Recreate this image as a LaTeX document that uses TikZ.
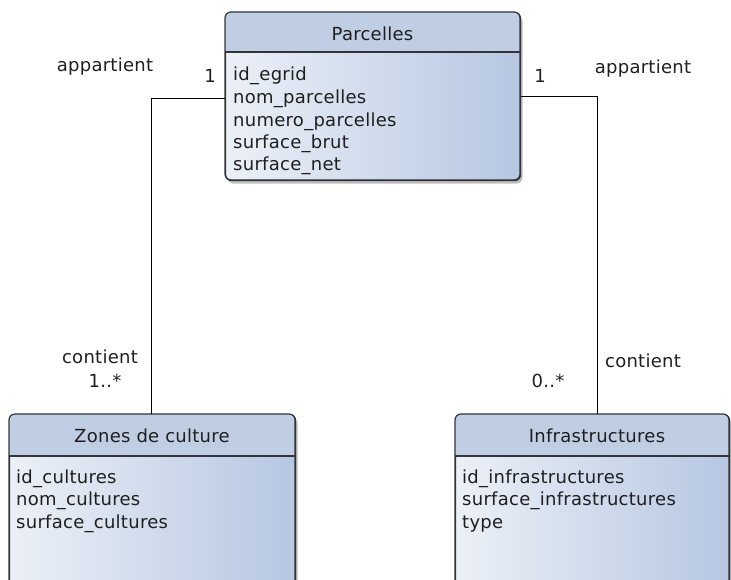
\documentclass[tikz,border=0pt]{standalone}
\usepackage{fontspec}
\setmainfont[LetterSpace=1.5]{DejaVu Sans}
\usetikzlibrary{calc,shadows}
\definecolor{hdr}{RGB}{192,206,228}
\definecolor{bodyL}{RGB}{236,240,247}
\definecolor{bodyR}{RGB}{182,199,226}
\definecolor{edge}{RGB}{50,52,58}
\tikzset{
  classbox/.style={draw=edge, line width=1.2pt, rounded corners=6pt, anchor=north west,
    left color=bodyL, right color=bodyR,
    drop shadow={shadow xshift=2pt, shadow yshift=-3pt, opacity=0.25, fill=black}},
  ttl/.style={font=\fontsize{18}{20}\selectfont, text=black!88},
  attr/.style={font=\fontsize{18}{20}\selectfont, text=black!88, anchor=west, inner sep=0pt},
  lbl/.style={font=\fontsize{18}{20}\selectfont, text=black!88},
  conn/.style={draw=black, line width=0.9pt}
}
\begin{document}
\begin{tikzpicture}[x=1pt,y=-1pt]
\useasboundingbox (0,0) rectangle (731,580);
% Parcelles
\node[classbox, minimum width=295pt, minimum height=168pt] (parc) at (225,12) {};
\begin{scope}
\clip[rounded corners=6pt] (225,12) rectangle (520,180);
\fill[hdr] (225,12) rectangle (520,52);
\end{scope}
\draw[edge, line width=1.2pt, rounded corners=6pt] (225,12) rectangle (520,180);
\draw[edge, line width=1.2pt] (225,52) -- (520,52);
\node[ttl] (parct) at (372.5,34) {Parcelles};
\node[attr] (p1) at (233,76) {id\_egrid};
\node[attr] (p2) at (233,99) {nom\_parcelles};
\node[attr] (p3) at (233,122) {numero\_parcelles};
\node[attr] (p4) at (233,144) {surface\_brut};
\node[attr] (p5) at (233,166) {surface\_net};
% Zones de culture
\node[classbox, minimum width=286pt, minimum height=190pt] (zone) at (9,414) {};
\begin{scope}
\clip[rounded corners=6pt] (9,414) rectangle (295,604);
\fill[hdr] (9,414) rectangle (295,456);
\end{scope}
\draw[edge, line width=1.2pt, rounded corners=6pt] (9,414) rectangle (295,604);
\draw[edge, line width=1.2pt] (9,456) -- (295,456);
\node[ttl] (zonet) at (152,436) {Zones de culture};
\node[attr] (z1) at (16,479) {id\_cultures};
\node[attr] (z2) at (16,501) {nom\_cultures};
\node[attr] (z3) at (16,524) {surface\_cultures};
% Infrastructures
\node[classbox, minimum width=274pt, minimum height=190pt] (infra) at (455,414) {};
\begin{scope}
\clip[rounded corners=6pt] (455,414) rectangle (729,604);
\fill[hdr] (455,414) rectangle (729,456);
\end{scope}
\draw[edge, line width=1.2pt, rounded corners=6pt] (455,414) rectangle (729,604);
\draw[edge, line width=1.2pt] (455,456) -- (729,456);
\node[ttl] (infrat) at (597,436) {Infrastructures};
\node[attr] (i1) at (462,479) {id\_infrastructures};
\node[attr] (i2) at (462,501) {surface\_infrastructures};
\node[attr] (i3) at (462,524) {type};
% connectors
\coordinate (lc) at (151,98);
\coordinate (rc) at (597,96);
\draw[conn] (parc.west |- lc) -- (lc) -- (lc |- zone.north);
\draw[conn] (parc.east |- rc) -- (rc) -- (rc |- infra.north);
% labels
\node[lbl] (l1) at (105,67) {appartient};
\node[lbl] (l2) at (210,76) {1};
\node[lbl] (l3) at (540,76) {1};
\node[lbl] (l4) at (643,69) {appartient};
\node[lbl] (l5) at (100,357) {contient};
\node[lbl] (l6) at (105,381) {1..*};
\node[lbl] (l7) at (643,361) {contient};
\node[lbl] (l8) at (548,381) {0..*};
\end{tikzpicture}
\end{document}
